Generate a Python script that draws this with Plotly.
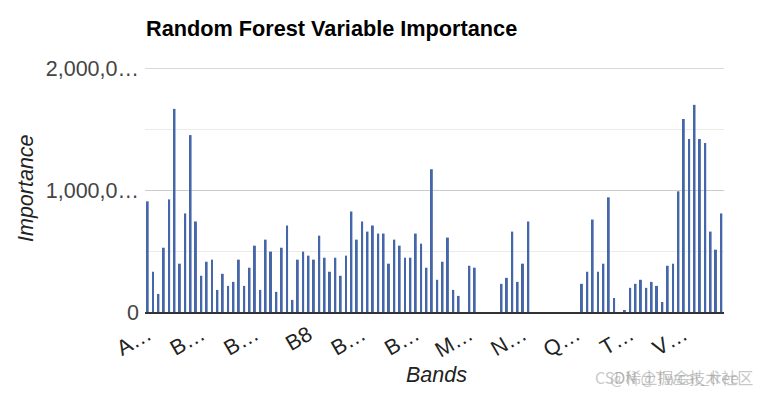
import plotly.graph_objects as go

bands = [
    "AOT", "AOT_1", "AOT_2", "AOT_3", "B1", "B1_1", "B1_2", "B1_3", "B11", "B11_1",
    "B11_2", "B11_3", "B12", "B12_1", "B12_2", "B12_3", "B2", "B2_1", "B2_2", "B2_3",
    "B3_1", "B3", "B3_2", "B3_3", "B4", "B4_1", "B4_2", "B4_3", "B5", "B5_1",
    "B8", "B5_2", "B5_3", "B6", "B6_1", "B6_2", "B6_3", "B7", "B7_1", "B7_2",
    "B7_3", "B8_1", "B8_2", "B8_3", "B8A", "B8A_1", "B8A_2", "B8A_3", "B9", "B9_1",
    "B9_2", "B9_3", "EVI", "EVI_1", "EVI_2", "EVI_3", "LSWI", "LSWI_1", "LSWI_2", "LSWI_3",
    "MNDWI", "MNDWI_1", "MSK_CLDPRB", "MSK_SNWPRB", "MSK_CLDPRB_1", "MSK_SNWPRB_1", "MNDWI_2", "MNDWI_3", "NBR", "NBR_1",
    "NDVI", "NDVI_1", "QA10", "QA20", "QA60", "QA10_1", "QA20_1", "QA60_1", "QA10_2", "QA20_2",
    "QA60_2", "NDVI_2", "NDVI_3", "NDWI", "NDWI_1", "NDWI_2", "NDWI_3", "SCL", "SCL_1", "SCL_2",
    "TCI_B", "TCI_G", "TCI_R", "TCI_B_1", "TCI_G_1", "TCI_R_1", "TCI_B_2", "TCI_G_2", "TCI_R_2", "TCI_B_3",
    "VV_mean", "VV_std", "VH_mean", "VH_std", "VV_p10", "VV_p90", "WVP", "WVP_1",
]

importance = [
    907000, 330000, 148000, 527000, 923000, 1665000, 396000, 808000, 1450000, 742000,
    297000, 412000, 429000, 181000, 313000, 214000, 247000, 429000, 214000, 363000,
    544000, 181000, 593000, 495000, 165000, 527000, 709000, 99000, 429000, 495000,
    462000, 429000, 626000, 445000, 330000, 445000, 297000, 462000, 824000, 593000,
    742000, 659000, 709000, 643000, 643000, 396000, 593000, 544000, 445000, 445000,
    643000, 560000, 363000, 1170000, 264000, 412000, 610000, 181000, 132000, 0,
    379000, 363000, 0, 0, 0, 0, 231000, 280000, 659000, 247000,
    396000, 742000, 0, 0, 0, 0, 0, 0, 0, 0,
    0, 231000, 330000, 758000, 330000, 396000, 940000, 115000, 0, 16000,
    198000, 231000, 264000, 198000, 247000, 214000, 82000, 379000, 396000, 989000,
    1582000, 1418000, 1698000, 1418000, 1385000, 659000, 511000, 808000,
]

x_tick_labels = ["A…", "B…", "B…", "B8", "B…", "B…", "M…", "N…", "Q…", "T…", "V…"]
y_tick_values = [0, 1000000, 2000000]
y_tick_labels = ["0", "1,000,0…", "2,000,0…"]
y_minor_values = [500000, 1500000]

FONT = "Arial, 'Liberation Sans', sans-serif"
FS = 21.5

fig = go.Figure(
    go.Bar(
        x=bands,
        y=importance,
        marker=dict(color="#4566a8", line=dict(width=0)),
    )
)

fig.update_layout(
    width=758,
    height=396,
    margin=dict(l=145, r=34, t=68, b=84),
    paper_bgcolor="white",
    plot_bgcolor="white",
    bargap=0.63,
    showlegend=False,
    font=dict(family=FONT, size=FS, color="#444"),
    title=dict(
        text="<b>Random Forest Variable Importance</b>",
        x=146 / 758,
        xref="container",
        xanchor="left",
        y=1 - 28.5 / 396,
        yref="container",
        yanchor="middle",
        font=dict(family=FONT, size=21.7, color="#000"),
    ),
)

fig.update_xaxes(
    type="category",
    tickmode="array",
    tickvals=bands[::10],
    ticktext=x_tick_labels,
    tickangle=-30,
    tickfont=dict(family=FONT, size=FS, color="#222"),
    showgrid=False,
    showline=True,
    linecolor="#333",
    linewidth=2,
    ticks="",
    range=[-0.5, len(bands) - 0.5],
)

fig.update_yaxes(
    range=[0, 2000000],
    tickmode="array",
    tickvals=y_tick_values,
    ticktext=y_tick_labels,
    tickfont=dict(family=FONT, size=FS, color="#444"),
    showgrid=True,
    gridcolor="#cccccc",
    gridwidth=1,
    zeroline=False,
    ticks="",
    ticklabelstandoff=5,
    minor=dict(tickvals=y_minor_values, showgrid=True, gridcolor="#ebebeb", gridwidth=1),
)

# top major gridline (Plotly omits the gridline sitting exactly on the range edge)
fig.add_hline(y=y_tick_values[-1], line=dict(color="#cccccc", width=1.5), layer="below")

fig.add_annotation(
    text="<i>Importance</i>",
    xref="paper", yref="paper",
    x=(26 - 145) / 579, y=(312 - 188) / 244,
    xanchor="center", yanchor="middle",
    textangle=-90,
    showarrow=False,
    font=dict(family=FONT, size=FS, color="#222"),
)
fig.add_annotation(
    text="<i>Bands</i>",
    xref="paper", yref="paper",
    x=(436 - 145) / 579, y=(312 - 375) / 244,
    xanchor="center", yanchor="middle",
    showarrow=False,
    font=dict(family=FONT, size=FS, color="#222"),
)
fig.add_annotation(
    text="CSDN @Twcat_tree",
    xref="paper", yref="paper",
    x=(593 - 145) / 579, y=(312 - 377) / 244,
    xanchor="left", yanchor="middle",
    showarrow=False,
    font=dict(family="'Noto Sans CJK SC', Arial", size=16, color="rgba(150,150,150,0.55)"),
)
fig.add_annotation(
    text="@稀土掘金技术社区",
    xref="paper", yref="paper",
    x=(608 - 145) / 579, y=(312 - 377) / 244,
    xanchor="left", yanchor="middle",
    showarrow=False,
    font=dict(family="'Noto Sans CJK SC', Arial", size=16, color="rgba(150,150,150,0.55)"),
)

fig.write_html(
    "out.html",
    config={"displayModeBar": False},
    post_script="document.body.style.margin='0';",
)
